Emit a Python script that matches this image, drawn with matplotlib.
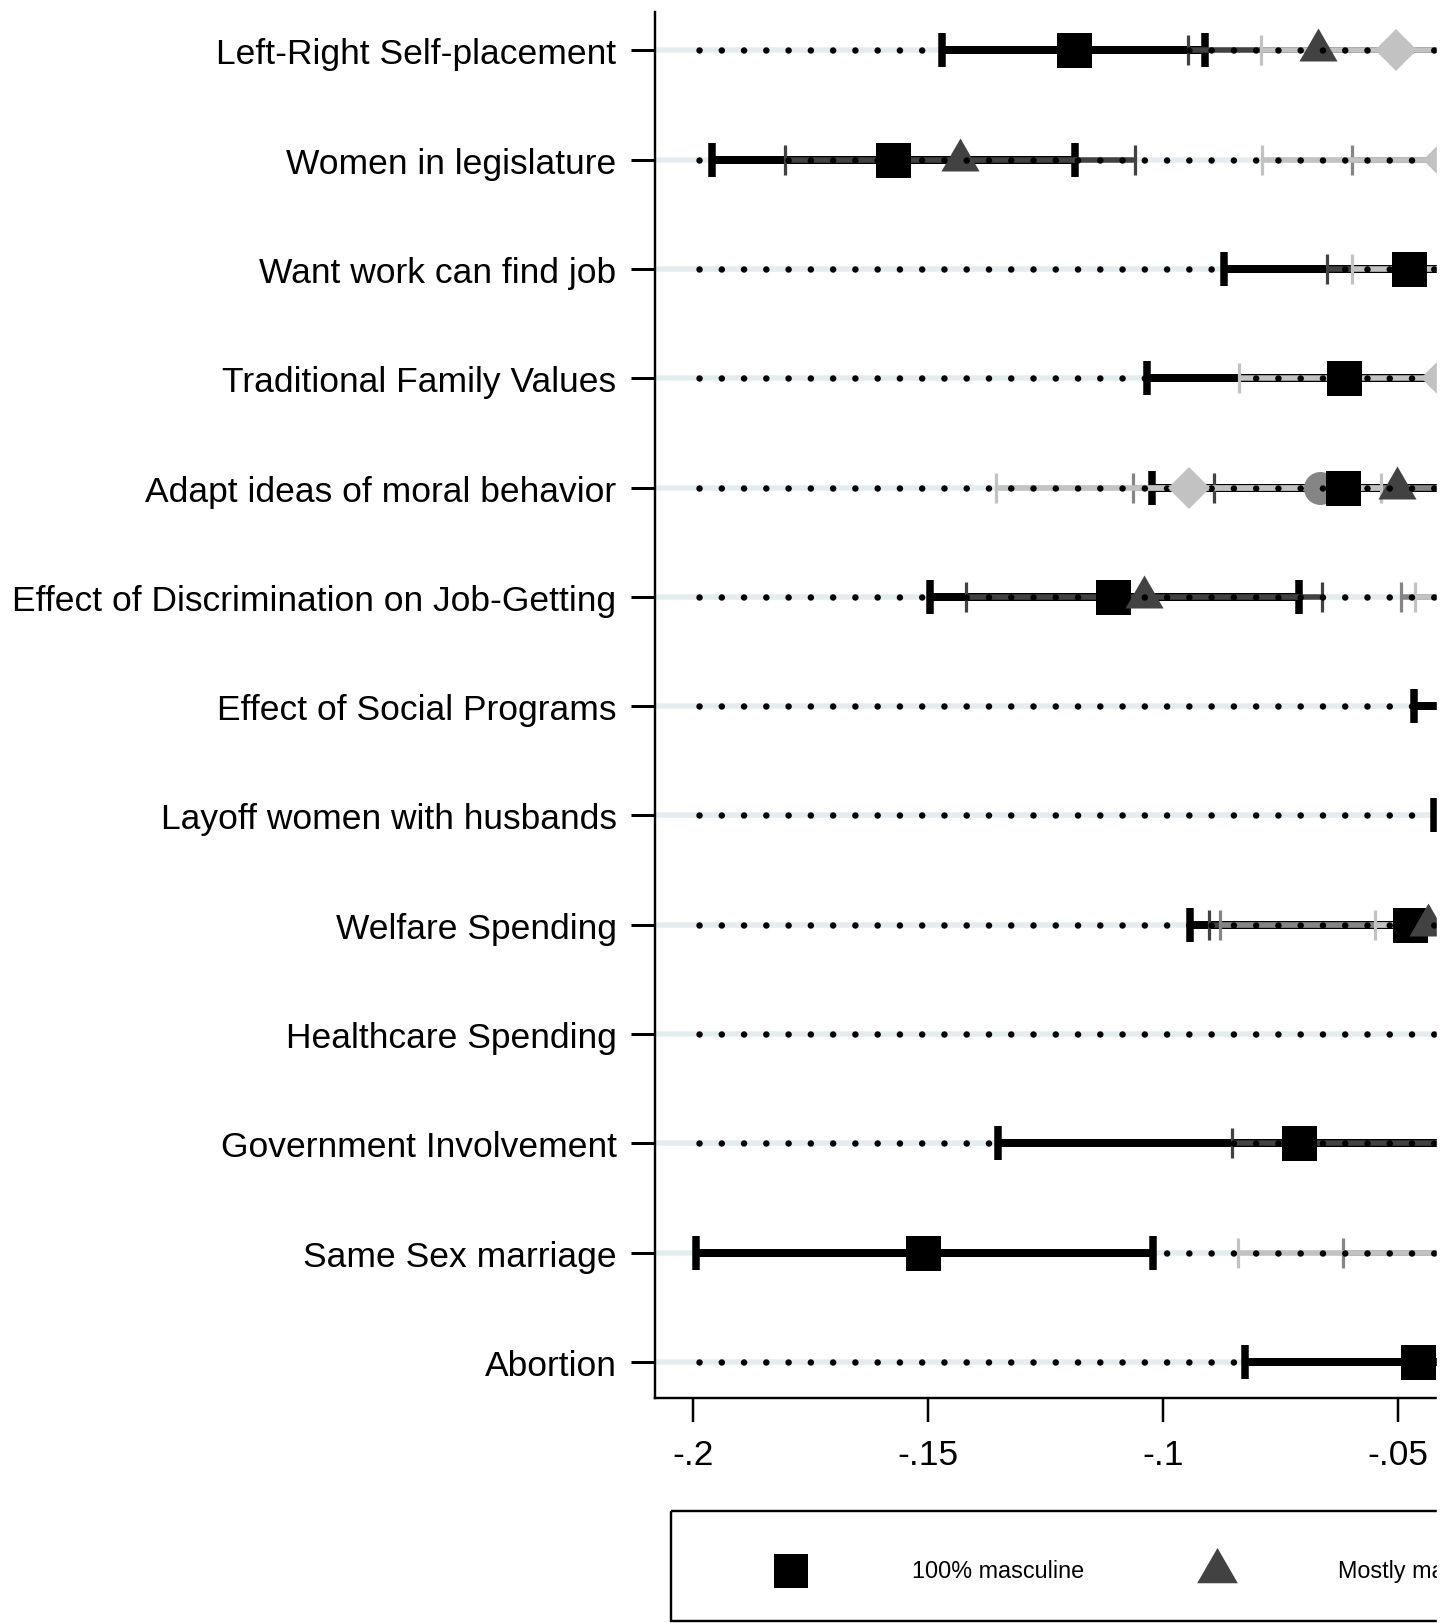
import numpy as np
import matplotlib
matplotlib.use("Agg")
import matplotlib.pyplot as plt
from matplotlib.patches import Rectangle

plt.rcParams['font.family'] = ['Liberation Sans', 'DejaVu Sans']

nan = np.nan

# Outcome items, top to bottom
categories = [
    "Left-Right Self-placement",
    "Women in legislature",
    "Want work can find job",
    "Traditional Family Values",
    "Adapt ideas of moral behavior",
    "Effect of Discrimination on Job-Getting",
    "Effect of Social Programs",
    "Layoff women with husbands",
    "Welfare Spending",
    "Healthcare Spending",
    "Government Involvement",
    "Same Sex marriage",
    "Abortion",
]

# Group 1: 100% masculine (black squares)
g1_est = [-0.119, -0.1574, -0.0476, -0.0614, -0.0617, -0.1105, -0.020, -0.015, -0.0473, nan, -0.0710, -0.1510, -0.0458]
g1_lo = [-0.147, -0.1960, -0.0870, -0.1034, -0.1024, -0.1495, -0.0465, -0.0424, -0.0942, nan, -0.1351, -0.1993, -0.0825]
g1_hi = [-0.091, -0.1187, -0.0082, -0.0194, -0.0210, -0.0710, 0.0065, 0.0124, -0.0004, nan, -0.0069, -0.1020, -0.0091]

# Group 2: mostly masculine (dark grey triangles)
g2_est = [-0.067, -0.1432, -0.030, nan, -0.0501, -0.1040, nan, nan, -0.0436, nan, -0.030, nan, nan]
g2_lo = [-0.0946, -0.1804, -0.0650, nan, -0.0891, -0.1419, nan, nan, -0.0902, nan, -0.0852, nan, nan]
g2_hi = [-0.040, -0.1059, 0.005, nan, -0.0111, -0.0661, nan, nan, 0.0030, nan, 0.025, nan, nan]

# Group 3 (medium grey circles)
g3_est = [nan, -0.025, nan, nan, -0.0665, -0.020, nan, nan, -0.035, nan, nan, -0.025, nan]
g3_lo = [nan, -0.0598, nan, nan, -0.1063, -0.0493, nan, nan, -0.0878, nan, nan, -0.0616, nan]
g3_hi = [nan, 0.010, nan, nan, -0.0267, 0.0093, nan, nan, 0.0178, nan, nan, 0.0116, nan]

# Group 4 (light grey diamonds)
g4_est = [-0.0504, -0.0402, -0.025, -0.0407, -0.0945, -0.015, nan, nan, -0.037, nan, nan, -0.030, nan]
g4_lo = [-0.0792, -0.0788, -0.0597, -0.0838, -0.1355, -0.0463, nan, nan, -0.0549, nan, nan, -0.0839, nan]
g4_hi = [-0.0216, -0.0016, 0.0097, 0.0024, -0.0535, 0.0163, nan, nan, -0.0191, nan, nan, 0.0239, nan]

xticks = [-0.2, -0.15, -0.1, -0.05]
xtick_labels = ["-.2", "-.15", "-.1", "-.05"]

legend_labels = ["100% masculine", "Mostly masculine"]

# ---------------------------------------------------------------- layout
W, H, DPI = 1453, 1624, 100
PT = 72.0 / DPI  # points per pixel

fig = plt.figure(figsize=(W / DPI, H / DPI), dpi=DPI)
fig.patch.set_facecolor("white")

# plot region in pixels; the region runs past the right edge of the canvas
x_px0, x_px_ref, px_per_unit = 654.5, 692.8, 4700.0
xmax = 0.06
x_px1 = x_px_ref + (xmax + 0.2) * px_per_unit
top_px, bot_px = 13.0, 1399.0
ax = fig.add_axes([x_px0 / W, (H - bot_px) / H, (x_px1 - x_px0) / W, (bot_px - top_px) / H])
ax.set_xlim(-0.2 + (x_px0 - x_px_ref) / px_per_unit, xmax)
ax.set_ylim(12.33, -0.352)

ypos = np.arange(len(categories))

tri = [(0.0, 1 / np.sqrt(3)), (-0.5, -0.5 / np.sqrt(3)), (0.5, -0.5 / np.sqrt(3))]

series = [
    # est, lo, hi, colour, marker, marker size, line width, cap thick, cap size, z-line, z-marker
    (g1_est, g1_lo, g1_hi, "#000000", "s", 35 * PT, 8.0 * PT, 7.5 * PT, 12.5, 2.0, 3.1),
    (g2_est, g2_lo, g2_hi, "#424242", tri, 44 * PT, 5.5 * PT, 3.2 * PT, 11.0, 2.1, 3.2),
    (g3_est, g3_lo, g3_hi, "#858585", "o", 33 * PT, 5.5 * PT, 3.2 * PT, 11.0, 2.2, 3.0),
    (g4_est, g4_lo, g4_hi, "#c2c2c2", "D", 30.4 * PT, 5.5 * PT, 3.2 * PT, 11.0, 2.3, 5.0),
]

# row guide: pale band plus a dotted line
for y in ypos:
    ax.axhline(y, color="#e5ecef", lw=5.5 * PT, zorder=1)
    dot_lw = 6.5
    ax.plot([-0.19874, xmax], [y, y], color="black", lw=dot_lw * PT,
            linestyle=(0, (0.01, 22.2 / dot_lw)), dash_capstyle="round", zorder=4)

for est, lo, hi, col, mk, ms, lw, ct, cs, zl, zm in series:
    est = np.asarray(est, float)
    lo = np.asarray(lo, float)
    hi = np.asarray(hi, float)
    ok = np.isfinite(est)
    ax.errorbar(est[ok], ypos[ok], xerr=[est[ok] - lo[ok], hi[ok] - est[ok]],
                fmt="none", ecolor=col, elinewidth=lw, capsize=cs, capthick=ct, zorder=zl)
    ax.plot(est[ok], ypos[ok], linestyle="none", marker=mk, ms=ms,
            color=col, mec=col, mew=0, zorder=zm)

ax.set_yticks(ypos)
ax.set_yticklabels(categories)
ax.set_xticks(xticks)
ax.set_xticklabels(xtick_labels)
ax.tick_params(axis="y", length=24 * PT, width=3 * PT, pad=10, labelsize=25.5)
ax.tick_params(axis="x", length=24 * PT, width=2.5 * PT, pad=11.5, labelsize=25.5)
for side in ("top", "right"):
    ax.spines[side].set_visible(False)
for side in ("left", "bottom"):
    ax.spines[side].set_linewidth(2.4 * PT)

# ---------------------------------------------------------------- legend and canvas edge
ov = fig.add_axes([0, 0, 1, 1], zorder=6)
ov.set_xlim(0, W)
ov.set_ylim(H, 0)
ov.axis("off")
ov.patch.set_alpha(0)

ov.add_patch(Rectangle((671, 1512), 1000, 110, fill=False, lw=2.4 * PT, ec="black"))
key_x = [791, 1217]
key_style = [("s", 34 * PT, "#000000"), (tri, 47 * PT, "#424242")]
for kx, (mk, ms, col), lab in zip(key_x, key_style, legend_labels):
    ov.plot([kx], [1572], marker=mk, ms=ms, color=col, mew=0, linestyle="none")
    ov.text(kx + 121, 1572, lab, fontsize=16.8, va="center", ha="left")

ov.add_patch(Rectangle((1437, -5), 40, H + 10, color="white", zorder=10))

fig.savefig("out.png", dpi=DPI)
